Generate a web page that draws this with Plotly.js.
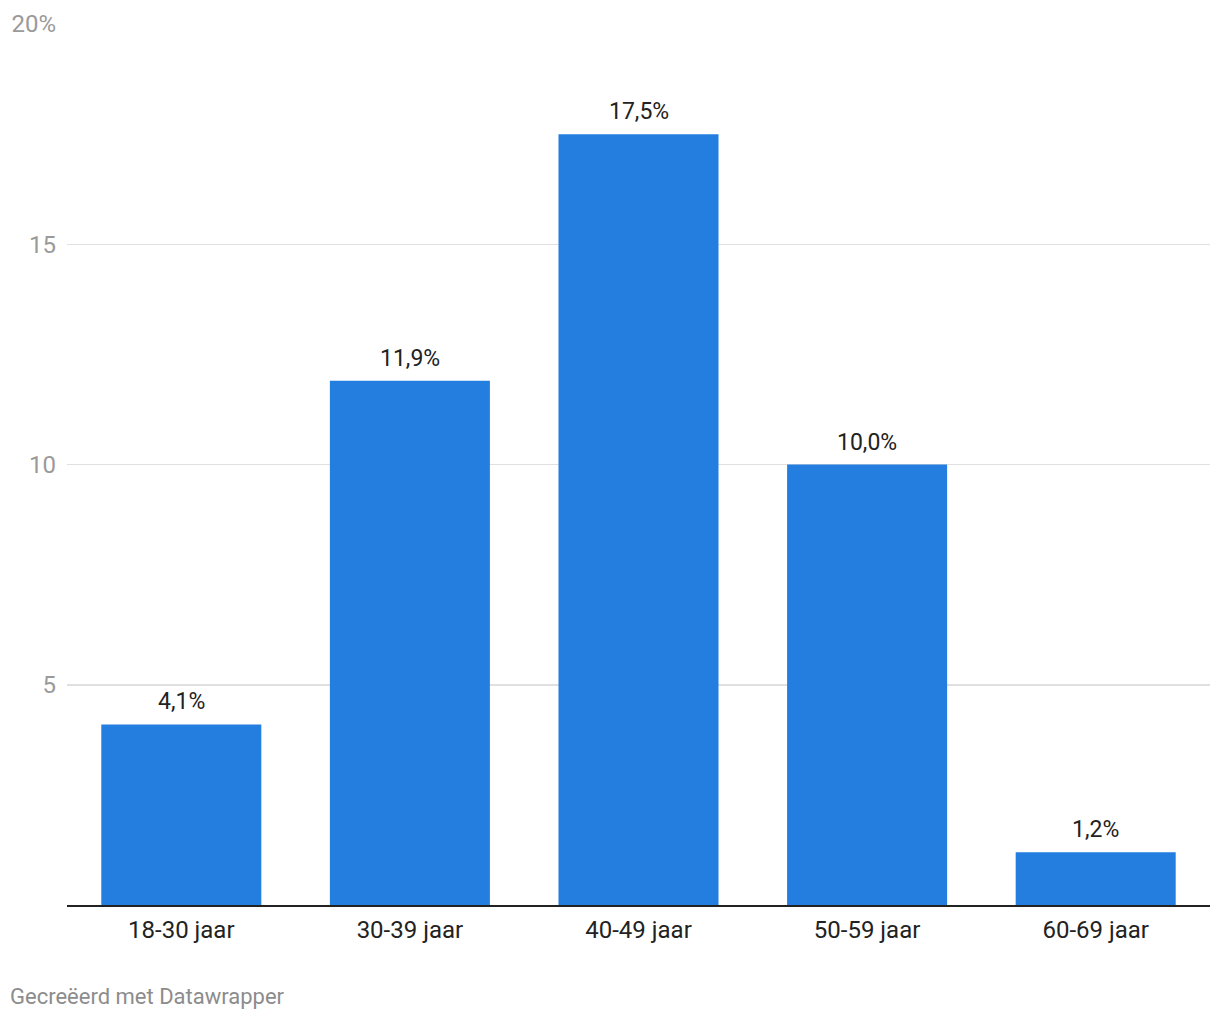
<!DOCTYPE html>
<html>
<head>
<meta charset="utf-8">
<script src="https://cdn.plot.ly/plotly-3.0.1.min.js"></script>
<style>
html,body{margin:0;padding:0;background:#fff;}
#chart{width:1220px;height:1020px;}
</style>
</head>
<body>
<div id="chart"></div>
<script>
const categories = ["18-30 jaar", "30-39 jaar", "40-49 jaar", "50-59 jaar", "60-69 jaar"];
const values = [4.1, 11.9, 17.5, 10.0, 1.2];
const valueLabels = ["4,1%", "11,9%", "17,5%", "10,0%", "1,2%"];
const yTickVals = [5, 10, 15, 20];
const yTickText = ["5", "10", "15", "20%"];

const trace = {
  type: "bar",
  x: categories,
  y: values,
  marker: {color: "#247ee0"},
  hoverinfo: "skip"
};

const annotations = categories.map((c, i) => ({
  x: c, y: values[i], xref: "x", yref: "y",
  text: valueLabels[i], showarrow: false,
  yanchor: "bottom", yshift: 7,
  font: {family: "Roboto", size: 23, color: "#222"}
}));
annotations.push({
  xref: "paper", yref: "paper", x: -59/1143, y: -92/881,
  xanchor: "left", yanchor: "middle", showarrow: false,
  text: "Gecreëerd met Datawrapper",
  font: {family: "Roboto", size: 22, color: "#8c8c8c"}
});

const layout = {
  width: 1220, height: 1020,
  margin: {l: 67, r: 10, t: 24, b: 115},
  paper_bgcolor: "#fff", plot_bgcolor: "#fff",
  bargap: 0.3,
  showlegend: false,
  font: {family: "Roboto", size: 24, color: "#222"},
  xaxis: {
    type: "category",
    showgrid: false,
    showline: true, linecolor: "#222", linewidth: 2,
    ticks: "", ticklabelstandoff: 2,
    tickfont: {family: "Roboto", size: 24, color: "#222"},
    fixedrange: true
  },
  yaxis: {
    range: [0, 20],
    tickvals: yTickVals, ticktext: yTickText,
    showgrid: true, gridcolor: "#e0e0e0", gridwidth: 1.5,
    zeroline: false, showline: false,
    ticks: "", ticklabelstandoff: 10,
    tickfont: {family: "Roboto", size: 24, color: "#9a9a9a"},
    fixedrange: true
  },
  annotations: annotations
};

Plotly.newPlot("chart", [trace], layout, {displayModeBar: false, staticPlot: true});
</script>
</body>
</html>
